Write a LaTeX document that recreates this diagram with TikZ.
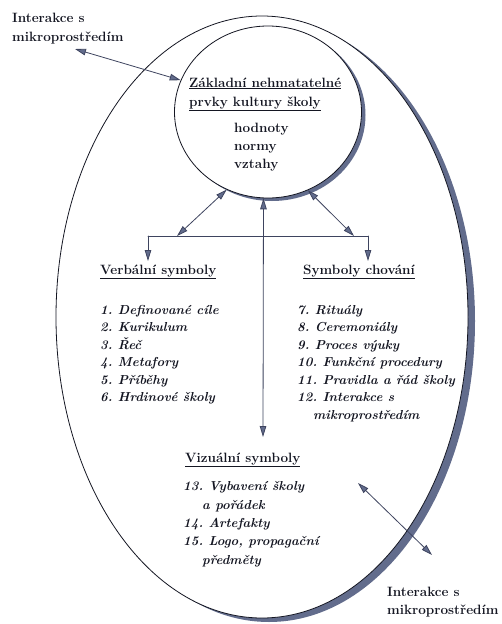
\documentclass[tikz,border=0pt]{standalone}
\usetikzlibrary{arrows.meta,shapes.geometric}
\definecolor{inkgray}{RGB}{20,22,34}
\definecolor{shadowblue}{RGB}{98,108,140}
\definecolor{arrowgray}{RGB}{62,68,95}
\tikzset{
    txt/.style={
        font=\bfseries\fontsize{13.5}{19}\selectfont
    }
}
\frenchspacing

\begin{document}
\begin{tikzpicture}[x=1pt,y=-1pt, line cap=round, line join=round]

\tikzset{
  link/.style={draw=arrowgray, line width=0.8pt, <->},
  wire/.style={draw=arrowgray, line width=0.8pt},
  onearr/.style={draw=arrowgray, line width=0.8pt, ->},
  core/.style={ellipse, draw=inkgray, fill=white, line width=0.8pt, minimum width=187pt, minimum height=172pt, inner sep=0pt},
  coreshade/.style={ellipse, fill=shadowblue, minimum width=187pt, minimum height=172pt, inner sep=0pt},
  head/.style={txt, text=inkgray, anchor=base west, inner sep=0pt},
  items/.style={font=\bfseries\itshape\fontsize{13}{17.5}\selectfont, text=inkgray, align=left, anchor=base west, inner sep=0pt},
  >={Triangle[length=11pt,width=6.5pt,fill=shadowblue]},
}

\useasboundingbox (0,0) rectangle (502,624);

% outer ellipse with its shadow
\fill[shadowblue] (269,321) ellipse (206 and 301);
\draw[inkgray, fill=white, line width=0.8pt] (262,317) ellipse (206 and 301);

% inner circle with its shadow
\node[coreshade] (coreshadow) at (272,115) {};
\node[core] (core) at (268,112) {};

\coordinate (tlTip) at (75,49);
\coordinate (barW) at (148,236);
\coordinate (barE) at (368,236);
\coordinate (barLtip) at (177,236);
\coordinate (barRtip) at (354,236);
\coordinate (verbTip) at (148,261);
\coordinate (behTip) at (368,261);
\coordinate (visTip) at (263,437);
\coordinate (brIn) at (358,483);
\coordinate (brOut) at (432,555);

% arrows
\draw[link] (tlTip) -- (core.160);
\draw[link] (core.242) -- (barLtip);
\draw[link] (core.297) -- (barRtip);
\draw[wire] (barW) -- (barE);
\draw[onearr] (barW) -- (verbTip);
\draw[onearr] (barE) -- (behTip);
\draw[link] (core.267) -- (visTip);
\draw[link] (brIn) -- (brOut);

% texts (base west = baseline of the last line)
\node[head, align=left] (envTL) at (12,41) {Interakce s\\mikroprostředím};
\node[head, align=left] (title) at (189,106) {\underline{Základní nehmatatelné}\\\underline{prvky kultury školy}};
\node[head, align=left, font=\bfseries\fontsize{13.5}{18}\selectfont] (values) at (234,168) {hodnoty\\normy\\vztahy};

\node[head] (verbal) at (100,274) {\underline{Verbální symboly}};
\node[head] (behav) at (303,274) {\underline{Symboly chování}};
\node[head] (visual) at (185,462) {\underline{Vizuální symboly}};

\node[items] (verbList) at (100,401.5) {1. Definované cíle\\2. Kurikulum\\3. Řeč\\4. Metafory\\5. Příběhy\\6. Hrdinové školy};
\node[items] (behList) at (297,419) {7. Rituály\\8. Ceremoniály\\9. Proces výuky\\10. Funkční procedury\\11. Pravidla a řád školy\\12. Interakce s\\\hspace*{16pt}mikroprostředím};
\node[items, font=\bfseries\itshape\fontsize{13}{18.3}\selectfont] (visList) at (183,564) {13. Vybavení školy\\\hspace*{19pt}a pořádek\\14. Artefakty\\15. Logo, propagační\\\hspace*{19pt}předměty};

\node[head, align=left, font=\bfseries\fontsize{13.5}{18}\selectfont] (envBR) at (387,614) {Interakce s\\mikroprostředím};

\end{tikzpicture}
\end{document}
